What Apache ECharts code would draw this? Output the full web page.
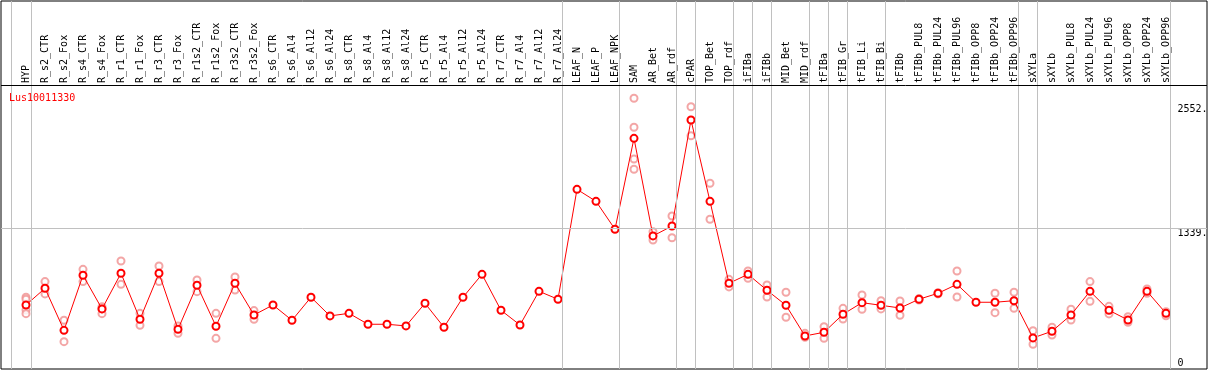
<!DOCTYPE html>
<html>
<head>
<meta charset="utf-8">
<script src="https://cdn.jsdelivr.net/npm/echarts@6/dist/echarts.min.js"></script>
<style>
html,body{margin:0;padding:0;background:#fff;}
#chart{width:1209px;height:370px;}
</style>
</head>
<body>
<div id="chart"></div>
<script>
const geneName = 'Lus10011330';

const categories = ['HYP','R_s2_CTR','R_s2_Fox','R_s4_CTR','R_s4_Fox','R_r1_CTR','R_r1_Fox','R_r3_CTR','R_r3_Fox',
  'R_r1s2_CTR','R_r1s2_Fox','R_r3s2_CTR','R_r3s2_Fox','R_s6_CTR','R_s6_Al4','R_s6_Al12','R_s6_Al24',
  'R_s8_CTR','R_s8_Al4','R_s8_Al12','R_s8_Al24','R_r5_CTR','R_r5_Al4','R_r5_Al12','R_r5_Al24',
  'R_r7_CTR','R_r7_Al4','R_r7_Al12','R_r7_Al24','LEAF_N','LEAF_P','LEAF_NPK','SAM','AR_Bet','AR_rdf',
  'cPAR','TOP_Bet','TOP_rdf','iFIBa','iFIBb','MID_Bet','MID_rdf','tFIBa','tFIB_Gr','tFIB_Li','tFIB_Bi',
  'tFIBb','tFIBb_PUL8','tFIBb_PUL24','tFIBb_PUL96','tFIBb_OPP8','tFIBb_OPP24','tFIBb_OPP96',
  'sXYLa','sXYLb','sXYLb_PUL8','sXYLb_PUL24','sXYLb_PUL96','sXYLb_OPP8','sXYLb_OPP24','sXYLb_OPP96'];

const meanValues = [604,764,361,889,566,908,467,908,371,793,400,812,508,604,457,678,499,
  524,419,419,403,620,390,678,898,553,412,735,659,1713,1598,1330,2202,1266,1361,
  2378,1598,812,898,745,601,307,342,515,626,601,
  575,659,716,802,630,630,645,288,352,508,735,553,460,735,524];

const replicateValues = [
  [678,659,556,521],[828,710],[457,252],[946,828],[588,521,566],[1026,802],[524,409],[978,828],[403,332],
  [844,732],[524,284],[872,748],[550,467],[],[],[],[],
  [],[],[],[],[],[],[],[],
  [],[],[],[],[],[],[],[2586,2308,2004,1905],[1307,1227],[1457,1249],
  [2505,2227],[1771,1426],[850,777],[930,860],[796,681],[726,486],[332,294],[396,284],[572,470],[700,563],[645,566],
  [642,505],[665,652],[722,710],[930,681],[],[716,530],[726,572],
  [358,227],[390,316],[563,460],[828,639],[591,518],[492,438],[757,716],[540,501]];

// group separators (positions on the sample index axis)
const separators = [-0.8,0.25,28.25,31.25,34.25,35.25,37.25,38.25,39.25,41.25,42.25,43.25,45.25,52.25,53.25,60.25];

const yTickLabels = [1339, 2552];
const yZeroLabel = [0];
const gridValue = 1339;
const headerValue = 2713.5; // boundary between label header and plot area

const meanData = meanValues.map((v, i) => [i, v]);
const repData = [];
replicateValues.forEach((arr, i) => arr.forEach(v => repData.push([i, v])));

const FONT = 'DejaVu Sans Mono';
const chart = echarts.init(document.getElementById('chart'), null, {renderer: 'canvas'});

const yCommon = {
  type: 'value', min: -10, max: 3519, position: 'right',
  axisLine: {show: false}, axisTick: {show: false}, splitLine: {show: false}
};

chart.setOption({
  animation: false,
  backgroundColor: '#ffffff',
  title: {
    text: geneName, left: 9, top: 93, padding: 0,
    textStyle: {color: '#ff0000', fontSize: 10, fontFamily: FONT, fontWeight: 'normal'}
  },
  grid: {
    left: 1, top: 1, width: 1206, height: 368,
    show: true, borderColor: '#000', borderWidth: 1, backgroundColor: 'transparent',
    containLabel: false, outerBoundsMode: 'none'
  },
  xAxis: {
    type: 'value', min: -1.3158, max: 62.158, position: 'top', offset: -84,
    axisLine: {show: false},
    axisTick: {show: false}, splitLine: {show: false},
    axisLabel: {
      customValues: categories.map((c, i) => i),
      formatter: v => categories[Math.round(v)] || '',
      rotate: 90, margin: 2, hideOverlap: false, padding: [0, 0, 5, 0],
      color: '#000', fontSize: 10, fontFamily: FONT
    }
  },
  yAxis: [
    Object.assign({}, yCommon, {
      axisLabel: {
        inside: true, customValues: yTickLabels,
        formatter: v => (v === yTickLabels[yTickLabels.length - 1] ? '{t|' : '{n|') + v + '.}',
        rich: {
          t: {padding: [3, 0, 0, 0], color: '#000', fontSize: 10, fontFamily: FONT},
          n: {color: '#000', fontSize: 10, fontFamily: FONT}
        },
        align: 'left', verticalAlign: 'top', margin: 29.5,
        color: '#000', fontSize: 10, fontFamily: FONT
      }
    }),
    Object.assign({}, yCommon, {
      axisLabel: {
        inside: true, customValues: yZeroLabel, formatter: v => String(v),
        align: 'left', verticalAlign: 'bottom', margin: 29.5,
        color: '#000', fontSize: 10, fontFamily: FONT
      }
    })
  ],
  series: [
    {
      type: 'line', name: 'guides', data: [], silent: true,
      markLine: {
        silent: true, symbol: ['none', 'none'], label: {show: false},
        lineStyle: {color: '#c0c0c0', type: 'solid', width: 1},
        emphasis: {disabled: true},
        data: separators.map(s => ({xAxis: s})).concat([{yAxis: gridValue}])
      }
    },
    {
      type: 'line', name: 'header', data: [], silent: true,
      markLine: {
        silent: true, symbol: ['none', 'none'], label: {show: false},
        lineStyle: {color: '#000', type: 'solid', width: 1},
        emphasis: {disabled: true},
        data: [{yAxis: headerValue}]
      },
      z: 5
    },
    {
      type: 'scatter', name: 'replicates', data: repData,
      symbol: 'emptyCircle', symbolSize: 7,
      itemStyle: {color: '#f09090', borderColor: '#f09090', borderWidth: 1.3},
      z: 3
    },
    {
      type: 'line', name: 'mean', data: meanData,
      symbol: 'emptyCircle', symbolSize: 7,
      lineStyle: {color: '#ff0000', width: 1},
      itemStyle: {color: '#ff0000', borderColor: '#ff0000', borderWidth: 1.5},
      z: 4
    }
  ]
});
</script>
</body>
</html>
